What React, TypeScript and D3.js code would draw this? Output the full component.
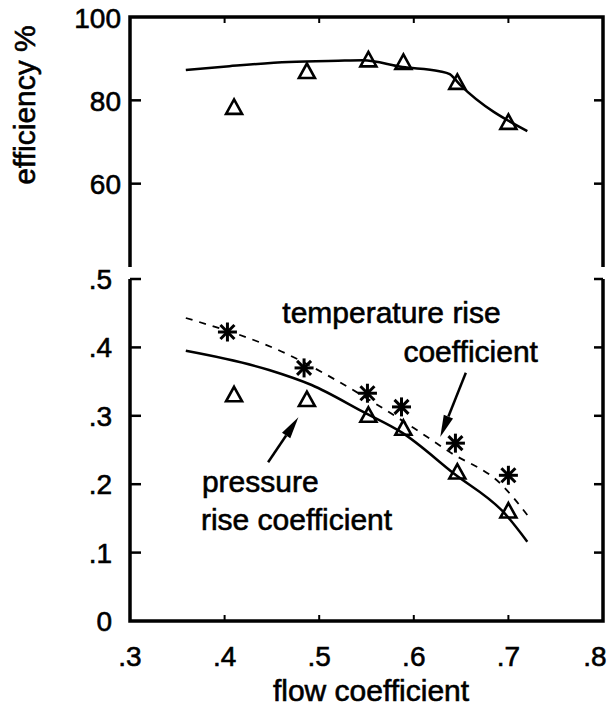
import React from 'react';
import * as d3 from 'd3';

const W = 609;
const H = 714;

// tick values and labels
const flowTicks = [0.3, 0.4, 0.5, 0.6, 0.7, 0.8];
const flowTickLabels = ['.3', '.4', '.5', '.6', '.7', '.8'];
const effTicks = [100, 80, 60];
const effTickLabels = ['100', '80', '60'];
const coefTicks = [0.5, 0.4, 0.3, 0.2, 0.1, 0];
const coefTickLabels = ['.5', '.4', '.3', '.2', '.1', '0'];

// measured points
const measuredFlow = [0.41, 0.487, 0.552, 0.589, 0.646, 0.7];
const measuredEff = [78.2, 86.8, 89.6, 89.0, 84.2, 74.6];
const measuredPressure = [0.33, 0.323, 0.3, 0.281, 0.217, 0.16];
const measuredTempFlow = [0.403, 0.484, 0.551, 0.587, 0.644, 0.7];
const measuredTemp = [0.4225, 0.37, 0.333, 0.313, 0.26, 0.213];

// predicted curves
const effCurveFlow = [0.359, 0.405, 0.468, 0.52, 0.546, 0.588, 0.627, 0.638, 0.649, 0.72];
const effCurve = [87.3, 88.2, 89.2, 89.5, 89.6, 88.0, 87.0, 86.3, 83.7, 72.6];
const pressCurveFlow = [0.359, 0.447, 0.492, 0.546, 0.588, 0.642, 0.697, 0.72];
const pressCurve = [0.395, 0.367, 0.345, 0.306, 0.275, 0.216, 0.156, 0.116];
const tempCurveFlow = [0.359, 0.468, 0.518, 0.6, 0.638, 0.693, 0.72];
const tempCurve = [0.443, 0.389, 0.352, 0.282, 0.247, 0.199, 0.155];

// annotations (data coordinates of the lower panel)
const notes = [
  { text: 'temperature rise', x: 0.461, y: 0.436 },
  { text: 'coefficient', x: 0.589, y: 0.379 },
  { text: 'pressure', x: 0.376, y: 0.189 },
  { text: 'rise coefficient', x: 0.375, y: 0.133 },
];
const arrows = [
  { x1: 0.655, y1: 0.363, x2: 0.628, y2: 0.269 },
  { x1: 0.446, y1: 0.232, x2: 0.478, y2: 0.298 },
];

const FONT = "'Liberation Sans', Arial, Helvetica, sans-serif";

const left = 130;
const right = 603;
const topY0 = 17;
const topY1 = 267;
const botY0 = 279;
const botY1 = 621;

const x = d3.scaleLinear().domain([0.3, 0.8]).range([left, right]);
const yEff = d3.scaleLinear().domain([40, 100]).range([topY1, topY0]);
const yCoef = d3.scaleLinear().domain([0, 0.5]).range([botY1, botY0]);

const Triangle = ({ cx, cy }: { cx: number; cy: number }) => (
  <path
    d={`M${cx},${cy - 8.5}L${cx + 8},${cy + 6}L${cx - 8},${cy + 6}Z`}
    fill="none"
    stroke="#000"
    strokeWidth={2.6}
  />
);

const Star = ({ cx, cy }: { cx: number; cy: number }) => {
  const r = 9.5;
  const d = 7;
  return (
    <g stroke="#000" strokeWidth={3}>
      <line x1={cx - r} x2={cx + r} y1={cy} y2={cy} />
      <line x1={cx} x2={cx} y1={cy - r} y2={cy + r} />
      <line x1={cx - d} x2={cx + d} y1={cy - d} y2={cy + d} />
      <line x1={cx - d} x2={cx + d} y1={cy + d} y2={cy - d} />
    </g>
  );
};

const Arrow = ({ x1, y1, x2, y2 }: { x1: number; y1: number; x2: number; y2: number }) => {
  const ang = Math.atan2(y2 - y1, x2 - x1);
  const len = 22;
  const hw = 5;
  const bx = x2 - len * Math.cos(ang);
  const by = y2 - len * Math.sin(ang);
  const px = -Math.sin(ang) * hw;
  const py = Math.cos(ang) * hw;
  return (
    <g>
      <line x1={x1} y1={y1} x2={bx} y2={by} stroke="#000" strokeWidth={2.5} />
      <path d={`M${x2},${y2}L${bx + px},${by + py}L${bx - px},${by - py}Z`} fill="#000" />
    </g>
  );
};

export default function App() {
  const effLine = d3
    .line<number>()
    .x((_, i) => x(effCurveFlow[i]))
    .y((d) => yEff(d))
    .curve(d3.curveMonotoneX);
  const pressLine = d3
    .line<number>()
    .x((_, i) => x(pressCurveFlow[i]))
    .y((d) => yCoef(d))
    .curve(d3.curveMonotoneX);
  const tempLine = d3
    .line<number>()
    .x((_, i) => x(tempCurveFlow[i]))
    .y((d) => yCoef(d))
    .curve(d3.curveMonotoneX);

  const axisW = 3.5;
  // keep the outer tick labels inside the page
  const labelX = (t: number) => Math.min(Math.max(x(t), left - 6), W - 14);

  return (
    <svg
      width={W}
      height={H}
      style={{ position: 'absolute', left: 0, top: 0, background: '#fff' }}
      fontFamily={FONT}
    >
      <rect width={W} height={H} fill="#fff" />

      {/* upper panel frame: top, left, right */}
      <path
        d={`M${left},${topY1}V${topY0}H${right}V${topY1}`}
        fill="none"
        stroke="#000"
        strokeWidth={axisW}
      />
      {flowTicks.slice(1, -1).map((t) => (
        <line key={'tt' + t} x1={x(t)} x2={x(t)} y1={topY0} y2={topY0 + 6} stroke="#000" strokeWidth={2} />
      ))}
      {effTicks.slice(1).map((t) => (
        <g key={'et' + t}>
          <line x1={left} x2={left + 11} y1={yEff(t)} y2={yEff(t)} stroke="#000" strokeWidth={2.5} />
          <line x1={right - 9} x2={right} y1={yEff(t)} y2={yEff(t)} stroke="#000" strokeWidth={2.5} />
        </g>
      ))}

      {/* lower panel frame: left, bottom, right */}
      <path
        d={`M${left},${botY0}V${botY1}H${right}V${botY0}`}
        fill="none"
        stroke="#000"
        strokeWidth={axisW}
      />
      {flowTicks.slice(1, -1).map((t) => (
        <line key={'bt' + t} x1={x(t)} x2={x(t)} y1={botY1} y2={botY1 - 6} stroke="#000" strokeWidth={2} />
      ))}
      {coefTicks.slice(0, -1).map((t) => (
        <g key={'ct' + t}>
          <line x1={left} x2={left + 11} y1={yCoef(t)} y2={yCoef(t)} stroke="#000" strokeWidth={2.5} />
          <line x1={right - 9} x2={right} y1={yCoef(t)} y2={yCoef(t)} stroke="#000" strokeWidth={2.5} />
        </g>
      ))}

      <g stroke="#000" strokeWidth={0.6}>
        {effTicks.map((t, i) => (
          <text key={'el' + t} x={121} y={yEff(t)} dy="0.38em" textAnchor="end" fontSize={28}>
            {effTickLabels[i]}
          </text>
        ))}
        {coefTicks.map((t, i) => (
          <text key={'cl' + t} x={112} y={yCoef(t)} dy="0.36em" textAnchor="end" fontSize={28}>
            {coefTickLabels[i]}
          </text>
        ))}
        {flowTicks.map((t, i) => (
          <text key={'fl' + t} x={labelX(t)} y={666} textAnchor="middle" fontSize={28}>
            {flowTickLabels[i]}
          </text>
        ))}

        {/* axis titles */}
        <text transform="translate(35,105) rotate(-90)" textAnchor="middle" fontSize={30}>
          efficiency %
        </text>
        <text x={371} y={701} textAnchor="middle" fontSize={30}>
          flow coefficient
        </text>

        {/* annotations */}
        {notes.map((n) => (
          <text key={n.text} x={x(n.x)} y={yCoef(n.y)} fontSize={30}>
            {n.text}
          </text>
        ))}
      </g>

      {/* efficiency */}
      <path d={effLine(effCurve) || ''} fill="none" stroke="#000" strokeWidth={2.5} />
      {measuredEff.map((v, i) => (
        <Triangle key={'me' + i} cx={x(measuredFlow[i])} cy={yEff(v)} />
      ))}

      {/* coefficients */}
      <path d={pressLine(pressCurve) || ''} fill="none" stroke="#000" strokeWidth={2.5} />
      <path
        d={tempLine(tempCurve) || ''}
        fill="none"
        stroke="#000"
        strokeWidth={1.8}
        strokeDasharray="7,7"
      />
      {measuredPressure.map((v, i) => (
        <Triangle key={'mp' + i} cx={x(measuredFlow[i])} cy={yCoef(v)} />
      ))}
      {measuredTemp.map((v, i) => (
        <Star key={'mt' + i} cx={x(measuredTempFlow[i])} cy={yCoef(v)} />
      ))}

      {arrows.map((a, i) => (
        <Arrow key={'ar' + i} x1={x(a.x1)} y1={yCoef(a.y1)} x2={x(a.x2)} y2={yCoef(a.y2)} />
      ))}
    </svg>
  );
}
